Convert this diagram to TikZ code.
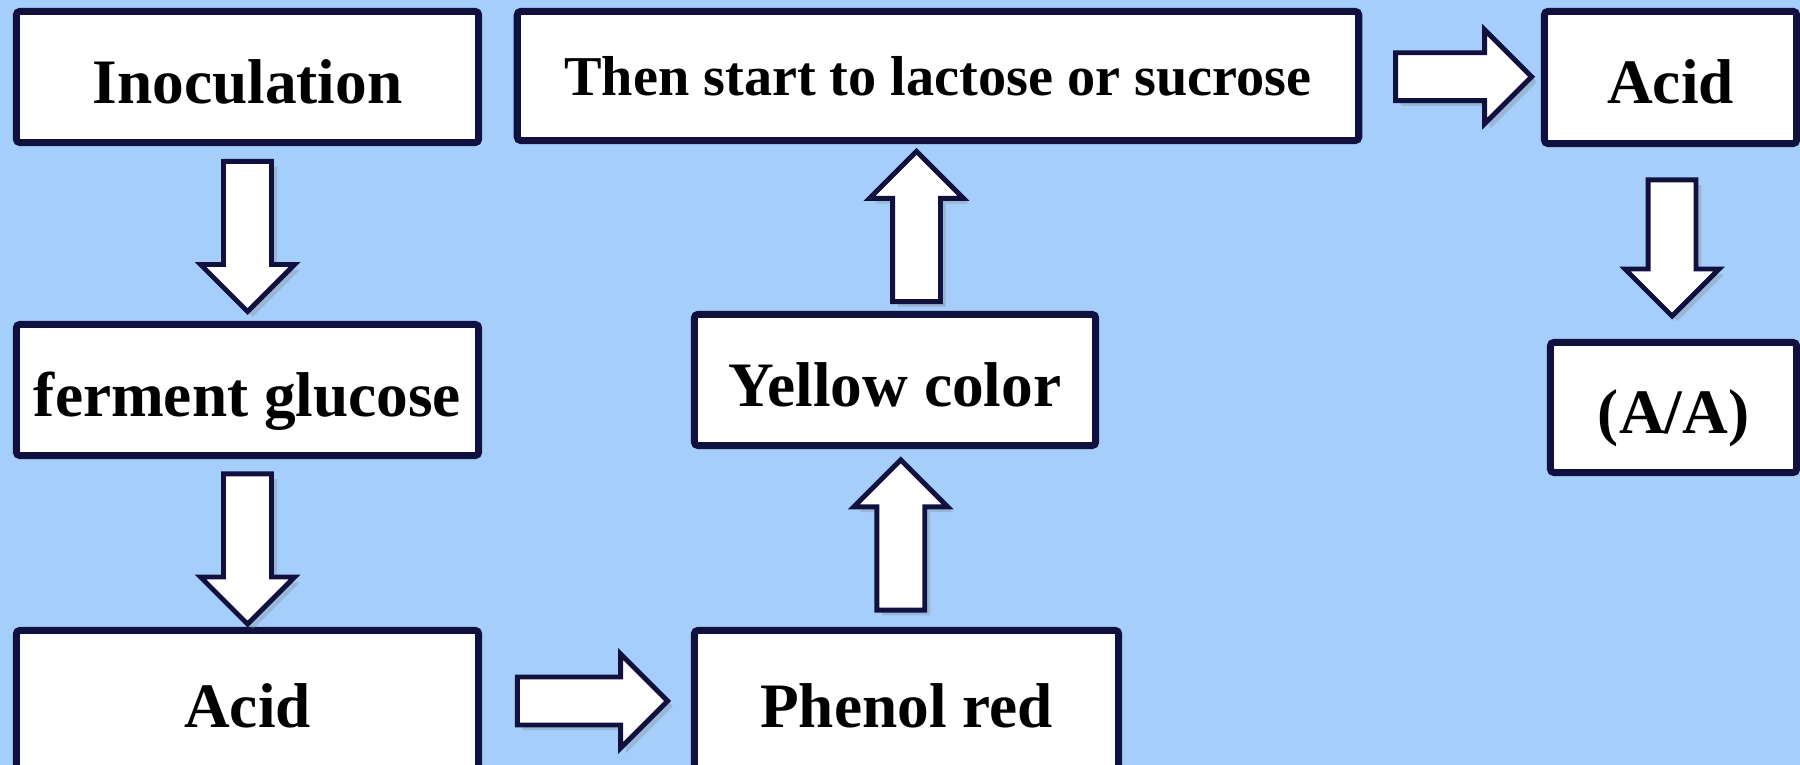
\documentclass[tikz,border=0pt]{standalone}
\usepackage{fontspec}
\setmainfont{Liberation Serif}
\usetikzlibrary{positioning,calc,shapes.arrows,shadows}
\definecolor{skyback}{RGB}{166,206,250}
\definecolor{navyline}{RGB}{17,17,64}

\begin{document}
\begin{tikzpicture}[x=0.01cm,y=-0.01cm,
  stepbox/.style={draw=navyline,line width=2pt,fill=white,rounded corners=1pt,
                  inner sep=0pt,text height=17pt,text depth=2pt,
                  font=\fontsize{18}{21}\selectfont\bfseries},
  fatarrow/.style={single arrow,draw=navyline,line width=1.4pt,fill=white,
                   inner xsep=0pt,inner ysep=0.215cm,
                   single arrow head extend=0.23cm,single arrow tip angle=90,
                   drop shadow={shadow xshift=1.5pt,shadow yshift=-1.5pt,
                                opacity=0.3}}]
  \clip (0,0) rectangle (1800,765);
  \fill[skyback] (0,0) rectangle (1800,765);

  % left column
  \node[stepbox,minimum width=4.62cm,minimum height=1.31cm] (inoc) at (247.5,77) {Inoculation};
  \node[stepbox,minimum width=4.62cm,minimum height=1.31cm] (ferm) at (247.5,390) {ferment glucose};
  \node[stepbox,minimum width=4.62cm,minimum height=1.41cm] (acid1) at (247.5,701) {Acid};

  % middle column
  \node[stepbox,minimum width=4.24cm,minimum height=1.41cm] (phenol) at (906.5,701) {Phenol red};
  \node[stepbox,minimum width=4.01cm,minimum height=1.31cm] (yellow) at (895,380) {Yellow color};
  \node[stepbox,minimum width=8.41cm,minimum height=1.29cm,text height=11pt,text depth=0pt,
        font=\fontsize{16}{19}\selectfont\bfseries] (lact) at (938,76) {Then start to lactose or sucrose};

  % right column
  \node[stepbox,minimum width=2.52cm,minimum height=1.32cm] (acid2) at (1670.5,77.5) {Acid};
  \node[stepbox,minimum width=2.46cm,minimum height=1.30cm] (aa) at (1673.5,407.5) {(A/A)};

  % block arrows
  \node[fatarrow,minimum height=1.5cm,rotate=-90] (a1) at ($(inoc.south)!0.5!(ferm.north)+(0,-9)$) {};
  \node[fatarrow,minimum height=1.5cm,rotate=-90] (a2) at ($(ferm.south)!0.5!(acid1.north)+(0,-6)$) {};
  \node[fatarrow,minimum height=1.5cm] (a3) at ($(acid1.east)!0.5!(phenol.west)+(-6,0)$) {};
  \node[fatarrow,minimum height=1.5cm,rotate=90] (a4) at ($(phenol.north)!0.5!(yellow.south)+(0,9)$) {};
  \node[fatarrow,minimum height=1.5cm,rotate=90] (a5) at ($(yellow.north)!0.5!(lact.south)+(0,11)$) {};
  \node[fatarrow,minimum height=1.36cm] (a6) at ($(lact.east)!0.5!(acid2.west)$) {};
  \node[fatarrow,minimum height=1.36cm,rotate=-90] (a7) at ($(acid2.south)!0.5!(aa.north)+(0,-7)$) {};
\end{tikzpicture}
\end{document}
